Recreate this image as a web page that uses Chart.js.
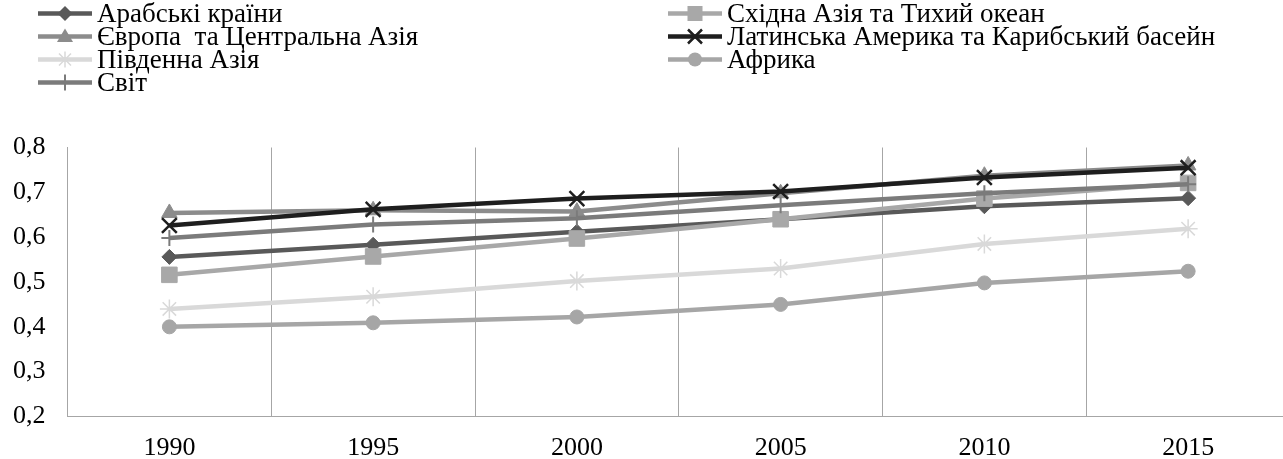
<!DOCTYPE html>
<html><head><meta charset="utf-8">
<script src="https://cdn.jsdelivr.net/npm/chart.js@4.4.0/dist/chart.umd.min.js"></script>
<style>
html,body{margin:0;padding:0;background:#fff;overflow:hidden;width:1283px;height:459px;}
#wrap{position:absolute;left:0;top:0;width:1290px;height:459px;}
#legend{position:absolute;left:0;top:0;width:1283px;height:110px;font-family:'Liberation Serif','Times New Roman',serif;font-size:27px;color:#000;}
.li{position:absolute;height:23px;line-height:23px;display:flex;align-items:center;white-space:nowrap;}
.li svg{display:block;margin-right:5px;flex:none}
</style></head><body>
<div id="wrap"><canvas id="c"></canvas></div>
<div id="legend"></div>
<script>
const categories = ['1990', '1995', '2000', '2005', '2010', '2015'];
const yTickLabels = ['0,2', '0,3', '0,4', '0,5', '0,6', '0,7', '0,8'];
const seriesNames = ['Арабські країни', 'Східна Азія та Тихий океан', 'Європа  та Центральна Азія',
  'Латинська Америка та Карибський басейн', 'Південна Азія', 'Африка', 'Світ'];
const arabStates   = [0.556, 0.583, 0.612, 0.640, 0.669, 0.687];
const eastAsia     = [0.516, 0.557, 0.597, 0.640, 0.686, 0.721];
const europeCAsia  = [0.654, 0.660, 0.657, 0.698, 0.737, 0.760];
const latinAmerica = [0.626, 0.662, 0.686, 0.702, 0.733, 0.755];
const southAsia    = [0.440, 0.467, 0.502, 0.530, 0.585, 0.619];
const africa       = [0.400, 0.409, 0.422, 0.450, 0.498, 0.524];
const world        = [0.598, 0.628, 0.642, 0.671, 0.698, 0.718];

const seriesData = [arabStates, eastAsia, europeCAsia, latinAmerica, southAsia, africa, world];
const colors = ['#595959', '#a8a8a8', '#8c8c8c', '#1e1e1e', '#d9d9d9', '#a6a6a6', '#7b7b7b'];
const styles = ['rectRot', 'rect', 'triangle', 'crossRot', 'star', 'circle', 'cross'];
const radii  = [7.5, 11, 9, 10.5, 9.5, 7, 8];
const pbw    = [1, 1, 1, 2.5, 1.5, 1, 2];

const FONT = "'Liberation Serif','Times New Roman',serif";

const datasets = seriesData.map((d, i) => ({
  label: seriesNames[i],
  data: d,
  borderColor: colors[i],
  backgroundColor: colors[i],
  borderWidth: 4.5,
  pointStyle: styles[i],
  pointRadius: radii[i],
  pointBorderColor: colors[i],
  pointBackgroundColor: colors[i],
  pointBorderWidth: pbw[i],
  tension: 0,
  order: 10 - i
}));

new Chart(document.getElementById('c'), {
  type: 'line',
  data: { labels: categories, datasets },
  options: {
    responsive: true,
    maintainAspectRatio: false,
    animation: false,
    layout: { autoPadding: false, padding: { top: 147.5, left: 0, right: 0, bottom: 0 } },
    plugins: { legend: { display: false }, tooltip: { enabled: false } },
    scales: {
      x: {
        offset: true,
        grid: { display: true, offset: true, lineWidth: 1, drawTicks: false,
          color: ctx => (ctx.index >= categories.length ? 'rgba(0,0,0,0)' : '#a6a6a6') },
        border: { display: true, color: '#a6a6a6', width: 1 },
        ticks: { padding: 16, color: '#000', font: { family: FONT, size: 26 }, maxRotation: 0 },
        afterFit: s => { s.height = 42.5; s.paddingLeft = 0; s.paddingRight = 0; }
      },
      y: {
        min: 0.2, max: 0.8,
        grid: { display: false, drawTicks: false },
        border: { display: true, color: '#a6a6a6', width: 1 },
        ticks: { stepSize: 0.1, padding: 22, color: '#000', font: { family: FONT, size: 26 },
          callback: (v, i) => yTickLabels[i] },
        afterFit: s => { s.width = 67.5; s.paddingTop = 0; s.paddingBottom = 0; }
      }
    }
  }
});

// HTML legend (two columns, row-major order)
function markerSvg(i) {
  const c = colors[i], cx = 27, cy = 11.5;
  let m = '';
  switch (styles[i]) {
    case 'rectRot': m = `<polygon points="${cx-7.5},${cy} ${cx},${cy-7.5} ${cx+7.5},${cy} ${cx},${cy+7.5}" fill="${c}"/>`; break;
    case 'rect': m = `<rect x="${cx-7.5}" y="${cy-7.5}" width="15" height="15" fill="${c}"/>`; break;
    case 'triangle': m = `<polygon points="${cx},${cy-8} ${cx-8},${cy+5.5} ${cx+8},${cy+5.5}" fill="${c}"/>`; break;
    case 'crossRot': m = `<path d="M${cx-7},${cy-7}L${cx+7},${cy+7}M${cx-7},${cy+7}L${cx+7},${cy-7}" stroke="${c}" stroke-width="2.5"/>`; break;
    case 'star': m = `<path d="M${cx},${cy-8}L${cx},${cy+8}M${cx-6},${cy-6}L${cx+6},${cy+6}M${cx-6},${cy+6}L${cx+6},${cy-6}M${cx-8},${cy}L${cx+8},${cy}" stroke="${c}" stroke-width="1.5"/>`; break;
    case 'circle': m = `<circle cx="${cx}" cy="${cy}" r="7" fill="${c}"/>`; break;
    case 'cross': m = `<path d="M${cx},${cy-8}L${cx},${cy+8}" stroke="${c}" stroke-width="2"/>`; break;
  }
  return `<svg width="54" height="23"><line x1="0" y1="${cy}" x2="54" y2="${cy}" stroke="${c}" stroke-width="4.5"/>${m}</svg>`;
}
const legend = document.getElementById('legend');
const rowCenters = [13, 36, 59, 82];
const colLeft = [38, 668];
seriesNames.forEach((name, i) => {
  const row = Math.floor(i / 2), col = i % 2;
  const el = document.createElement('div');
  el.className = 'li';
  el.style.left = colLeft[col] + 'px';
  el.style.top = (rowCenters[row] - 11.5) + 'px';
  el.innerHTML = markerSvg(i);
  const t = document.createElement('span');
  t.textContent = name;
  t.style.whiteSpace = 'pre';
  el.appendChild(t);
  legend.appendChild(el);
});
</script>
</body></html>
